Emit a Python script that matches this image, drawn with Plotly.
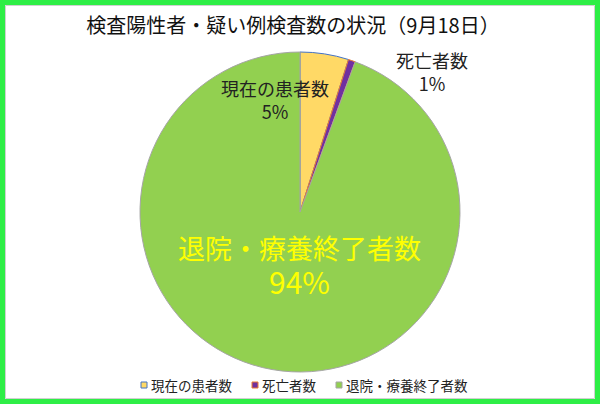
import plotly.graph_objects as go

# data
labels = ["現在の患者数", "死亡者数", "退院・療養終了者数"]
values = [49, 7, 944]
fill_colors = ["#FFD966", "#7030A0", "#92D050"]
edge_colors = ["#4472C4", "#ED7D31", "#A5A5A5"]
title_text = "検査陽性者・疑い例検査数の状況（9月18日）"

W, H = 600, 404
FONT = "Noto Sans CJK JP"
total = sum(values)
pcts = [f"{round(v / total * 100)}%" for v in values]

fig = go.Figure(go.Pie(
    labels=labels, values=values, sort=False, direction="clockwise",
    rotation=0, textinfo="none", hoverinfo="label+percent",
    marker=dict(colors=fill_colors, line=dict(color=edge_colors, width=1)),
    domain=dict(x=[140 / W, 460 / W], y=[(H - 372) / H, (H - 52) / H]),
    showlegend=False,
))

# data labels, placed where the original chart has them
label_pos = [(275, 99), (432, 72), (299, 265)]
label_size = [18, 18, 27]
pct_size = [18, 18, 30]
label_col = ["#222222", "#222222", "#FFFF00"]
for i, lab in enumerate(labels):
    x, y = label_pos[i]
    fig.add_annotation(
        x=x / W, y=1 - y / H, xref="paper", yref="paper", showarrow=False,
        xanchor="center", yanchor="middle",
        text=f"{lab}<br><span style='font-size:{pct_size[i]}px'>{pcts[i]}</span>",
        align="center",
        font=dict(size=label_size[i], color=label_col[i], family=FONT),
    )

# small legend along the bottom, like the spreadsheet one
legend_x = [141, 252, 336]
legend_y = 385
shapes = []
for i, lab in enumerate(labels):
    x = legend_x[i]
    shapes.append(dict(
        type="rect", xref="paper", yref="paper",
        x0=x / W, x1=(x + 6) / W,
        y0=1 - (legend_y + 3) / H, y1=1 - (legend_y - 3) / H,
        fillcolor=fill_colors[i], line=dict(color=edge_colors[i], width=1),
    ))
    fig.add_annotation(
        x=(x + 8) / W, y=1 - legend_y / H, xref="paper", yref="paper",
        xanchor="left", yanchor="middle", showarrow=False, text=lab,
        font=dict(size=13.5, color="#222222", family=FONT),
    )

# green frame round the picture
shapes += [
    dict(type="rect", xref="paper", yref="paper",
         x0=2.5 / W, x1=1 - 2.5 / W, y0=2.5 / H, y1=1 - 2.5 / H,
         line=dict(color="#2EEE46", width=5)),
    dict(type="rect", xref="paper", yref="paper",
         x0=5.5 / W, x1=1 - 5.5 / W, y0=5.5 / H, y1=1 - 5.5 / H,
         line=dict(color="#D0D0D0", width=1)),
]

fig.update_layout(
    width=W, height=H,
    margin=dict(l=0, r=0, t=0, b=0),
    paper_bgcolor="white",
    font=dict(family=FONT, color="#111111"),
    title=dict(text=title_text, x=293 / W, xanchor="center", y=1 - 26 / H,
               yanchor="middle", font=dict(size=20, color="#111111")),
    shapes=shapes,
)

fig.write_html("out.html", config={"displayModeBar": False},
               post_script="document.body.style.margin='0';")
